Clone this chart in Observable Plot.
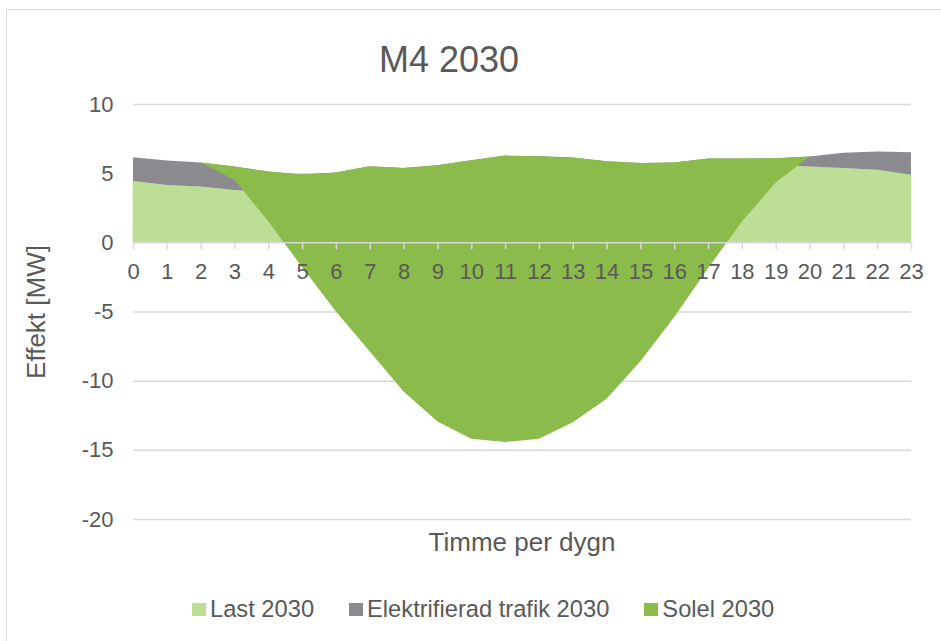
<!DOCTYPE html>
<html>
<head>
<meta charset="utf-8">
<script src="https://cdn.jsdelivr.net/npm/d3@7"></script>
<script src="https://cdn.jsdelivr.net/npm/@observablehq/plot@0.6"></script>
<style>
  html, body { margin: 0; padding: 0; background: #fff; }
  body { width: 941px; height: 641px; position: relative; overflow: hidden;
         font-family: "Liberation Sans", Arial, sans-serif; color: #595959; }
  #frame { position: absolute; left: 6px; top: 9px; width: 960px; height: 660px;
           border: 1.5px solid #d9d9d9; box-sizing: border-box; }
  #chart { position: absolute; left: 0; top: 0; }
  .txt { position: absolute; white-space: nowrap; line-height: 1; }
  #title { left: 449px; top: 41.5px; font-size: 36px; transform: translateX(-50%); }
  #xtitle { left: 522px; top: 529px; font-size: 26px; transform: translateX(-50%); }
  #ytitle { left: 36px; top: 311.5px; font-size: 26px; transform: translate(-50%, -50%) rotate(-90deg); }
  #legend { position: absolute; left: 192px; top: 597px; height: 25px; display: flex;
            align-items: center; font-size: 23.7px; line-height: 1; white-space: nowrap; }
  .item { display: flex; align-items: center; margin-right: 35px; }
  .sw { width: 14px; height: 13px; margin-right: 4px; }
</style>
</head>
<body>
<div id="frame"></div>
<div id="chart"></div>
<div id="title" class="txt">M4 2030</div>
<div id="ytitle" class="txt">Effekt [MW]</div>
<div id="xtitle" class="txt">Timme per dygn</div>
<div id="legend"></div>
<script>
// ---- data ----
const hours  = [0, 1, 2, 3, 4, 5, 6, 7, 8, 9, 10, 11, 12, 13, 14, 15, 16, 17, 18, 19, 20, 21, 22, 23];
const last   = [4.44, 4.15, 4.03, 3.79, 3.60, 3.70, 3.90, 4.30, 4.40, 4.60, 4.90, 5.20, 5.20, 5.10, 4.90, 4.80, 4.90, 5.20, 5.40, 5.60, 5.48, 5.38, 5.24, 4.88];
const trafik = [1.71, 1.76, 1.74, 1.69, 1.52, 1.20, 1.15, 1.20, 0.98, 0.97, 1.03, 1.07, 1.02, 1.03, 0.96, 0.94, 0.87, 0.86, 0.66, 0.48, 0.72, 1.09, 1.32, 1.64];
const solel  = [0, 0, 0, -0.98, -3.60, -6.70, -10.05, -13.40, -16.16, -18.52, -20.13, -20.71, -20.42, -19.13, -17.16, -14.34, -11.17, -7.93, -4.56, -1.76, 0, 0, 0, 0];
const seriesNames  = ["Last 2030", "Elektrifierad trafik 2030", "Solel 2030"];
const seriesColors = ["#bcdf95", "#8b8a8f", "#8bbb4a"];
const yTicks = [-20, -15, -10, -5, 0, 5, 10];
const xTickLabels = hours.map(String);

// Excel-style stacked area: each series drawn from previous cumulative to new cumulative
const rows = hours.map((h, i) => {
  const c1 = last[i];
  const c2 = c1 + trafik[i];
  const c3 = c2 + solel[i];
  return {hour: h, c0: 0, c1, c2, c3};
});

const gridColor = "#d9d9d9";
const textColor = "#595959";

const chart = Plot.plot({
  width: 941,
  height: 641,
  marginLeft: 133,
  marginRight: 30,
  marginTop: 104,
  marginBottom: 122,
  style: {fontFamily: '"Liberation Sans", Arial, sans-serif', fontSize: "22px", color: textColor, background: "transparent", overflow: "visible"},
  x: {domain: [0, 23], axis: null},
  y: {domain: [-20, 10], ticks: yTicks, tickSize: 0, tickPadding: 20, label: null, tickFormat: d => String(d)},
  marks: [
    Plot.ruleY(yTicks.filter(d => d !== 0), {y: d => d, stroke: gridColor, strokeWidth: 1.5}),
    Plot.area(rows, {x1: "hour", y1: "c0", y2: "c1", fill: seriesColors[0], stroke: seriesColors[0], strokeWidth: 0.4}),
    Plot.area(rows, {x1: "hour", y1: "c1", y2: "c2", fill: seriesColors[1]}),
    Plot.area(rows, {x1: "hour", y1: "c2", y2: "c3", fill: seriesColors[2]}),
    Plot.ruleY([0], {stroke: gridColor, strokeWidth: 1.5}),
    Plot.ruleX(hours, {x: d => d, y1: 0, y2: 0, insetBottom: -7, stroke: gridColor, strokeWidth: 1.5}),
    Plot.text(hours, {x: d => d, y: 0, dy: 29, text: (d, i) => xTickLabels[i], fill: textColor, fontSize: 22})
  ]
});
document.getElementById("chart").appendChild(chart);

// legend
const legend = document.getElementById("legend");
seriesNames.forEach((name, i) => {
  const item = document.createElement("div");
  item.className = "item";
  const sw = document.createElement("div");
  sw.className = "sw";
  sw.style.background = seriesColors[i];
  const label = document.createElement("span");
  label.textContent = name;
  item.appendChild(sw);
  item.appendChild(label);
  legend.appendChild(item);
});
</script>
</body>
</html>
